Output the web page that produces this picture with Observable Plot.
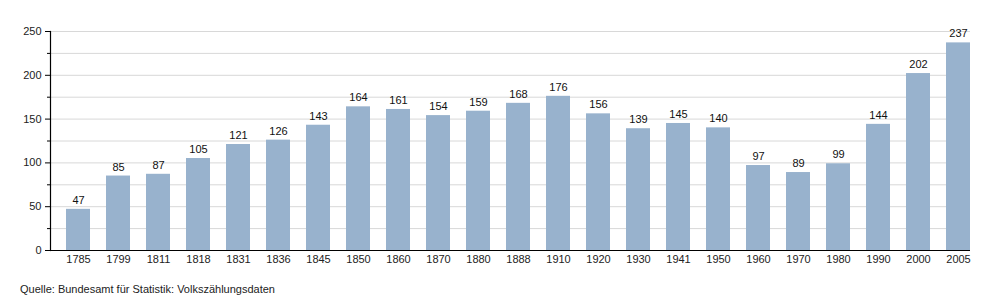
<!DOCTYPE html>
<html><head><meta charset="utf-8">
<script src="https://cdn.jsdelivr.net/npm/d3@7"></script>
<script src="https://cdn.jsdelivr.net/npm/@observablehq/plot@0.6"></script>
<style>
body{margin:0;background:#fff;font-family:"Liberation Sans",Arial,sans-serif;}
#cap{font-size:11px;color:#222;margin:8px 0 0 20px;}
</style></head><body>
<div id="chart"></div>
<div id="cap">Quelle: Bundesamt für Statistik: Volkszählungsdaten</div>
<script>
const years = ["1785","1799","1811","1818","1831","1836","1845","1850","1860","1870","1880","1888","1910","1920","1930","1941","1950","1960","1970","1980","1990","2000","2005"];
const values = [47,85,87,105,121,126,143,164,161,154,159,168,176,156,139,145,140,97,89,99,144,202,237];
const majorTicks = [0,50,100,150,200,250];
const minorTicks = [25,75,125,175,225];
const gridTicks = [25,50,75,100,125,150,175,200,225,250];

const data = years.map((y,i)=>({year:y, value:values[i]}));

const plot = Plot.plot({
  width: 1000, height: 275,
  marginLeft: 50, marginRight: 30, marginTop: 31, marginBottom: 25,
  style: {fontFamily: '"Liberation Sans", Arial, sans-serif', fontSize: "11px", color: "#222"},
  x: {domain: years, paddingInner: 0.4, paddingOuter: 0.2, align: 1, label: null},
  y: {domain: [0, 250], label: null},
  marks: [
    Plot.ruleY(gridTicks, {stroke: "#d8d8d8", strokeWidth: 1, strokeOpacity: 1}),
    Plot.barY(data, {x: "year", y: "value", fill: "#98b2cd"}),
    Plot.text(data, {x: "year", y: "value", text: d => String(d.value), dy: -9, fontSize: 11, fill: "#111"}),
    Plot.axisX({tickSize: 0, tickPadding: 5, fontSize: 11}),
    Plot.axisY(majorTicks, {tickSize: 5, tickPadding: 4, fontSize: 11, stroke: "#000", strokeOpacity: 1}),
    Plot.axisY(minorTicks, {tickSize: 3, tickFormat: () => "", stroke: "#000", strokeOpacity: 1}),
    Plot.ruleY([0], {stroke: "#000", strokeWidth: 1.2}),
    Plot.frame({anchor: "left", stroke: "#000", strokeWidth: 1.2})
  ]
});
document.getElementById("chart").appendChild(plot);
</script>
</body></html>
